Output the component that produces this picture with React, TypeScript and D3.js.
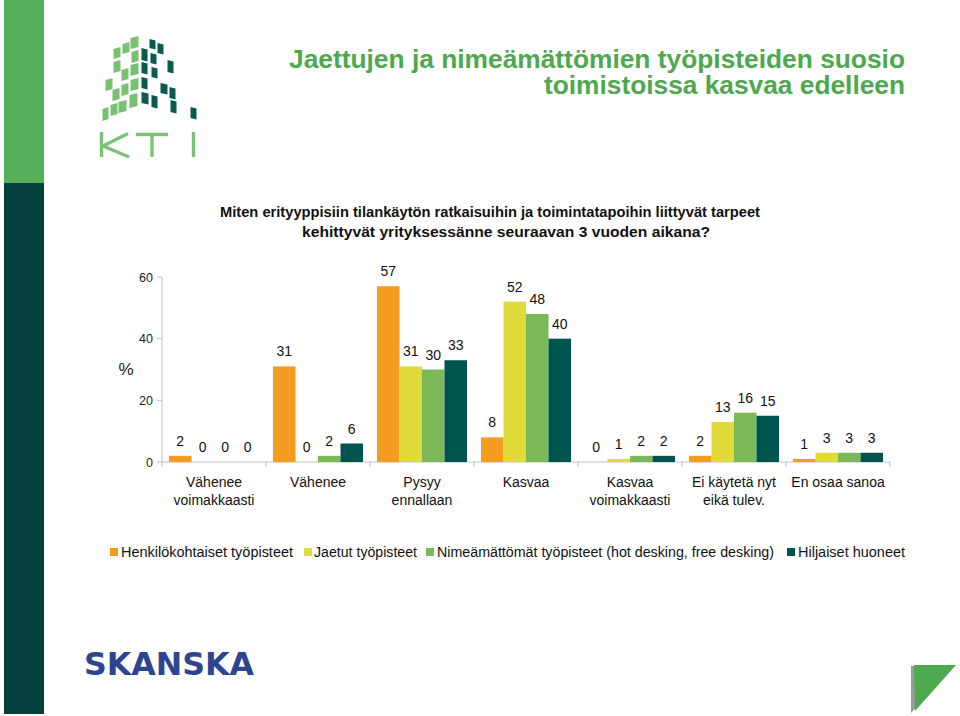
import React from "react";
import * as d3 from "d3";

const categories: string[][] = [
  ["Vähenee", "voimakkaasti"],
  ["Vähenee"],
  ["Pysyy", "ennallaan"],
  ["Kasvaa"],
  ["Kasvaa", "voimakkaasti"],
  ["Ei käytetä nyt", "eikä tulev."],
  ["En osaa sanoa"],
];
const seriesNames = [
  "Henkilökohtaiset työpisteet",
  "Jaetut työpisteet",
  "Nimeämättömät työpisteet (hot desking, free desking)",
  "Hiljaiset huoneet",
];
const henkilokohtaiset = [2, 31, 57, 8, 0, 2, 1];
const jaetut = [0, 0, 31, 52, 1, 13, 3];
const nimeamattomat = [0, 2, 30, 48, 2, 16, 3];
const hiljaiset = [0, 6, 33, 40, 2, 15, 3];
const yTicks = [0, 20, 40, 60];

const seriesValues = [henkilokohtaiset, jaetut, nimeamattomat, hiljaiset];
const colors = ["#F39C1F", "#DEDB3A", "#7BB856", "#005450"];

// Decorative logo tiles [x, y, w, h]
const lightTiles = [
  [114, 47, 6, 11], [123, 42, 6, 11], [131, 36, 7, 12], [114, 60, 6, 12], [132, 50, 6, 12],
  [106, 78, 6, 12], [122, 68, 6, 12], [131, 63, 7, 12], [113, 88, 6, 12], [122, 83, 6, 12],
  [131, 78, 7, 12], [103, 107, 5, 13], [111, 103, 6, 12], [119, 100, 7, 12], [130, 93, 7, 14],
];
const darkTiles = [
  [150, 39, 5, 9], [158, 43, 5, 10], [142, 48, 5, 12], [151, 53, 5, 10], [168, 60, 5, 12],
  [142, 62, 5, 11], [152, 67, 5, 10], [142, 77, 5, 11], [161, 83, 6, 10], [170, 87, 5, 11],
  [142, 92, 6, 11], [152, 95, 5, 12], [171, 100, 5, 12], [191, 107, 5, 11],
];

export default function App() {
  const W = 960, H = 716;
  const x0 = d3.scaleBand<number>()
    .domain(d3.range(categories.length))
    .range([162, 890])
    .paddingInner(0.1346)
    .paddingOuter(0.0673);
  const x1 = d3.scaleBand<number>()
    .domain(d3.range(seriesValues.length))
    .range([0, x0.bandwidth()]);
  const y = d3.scaleLinear().domain([0, 60]).range([462, 277]);
  const step = x0.step();
  const font = "'Liberation Sans', Arial, sans-serif";

  const legendSquares = [110, 304, 426, 787];
  const legendText = [121, 314, 437, 798];
  const legendLen = [172, 103, 337, 107];

  return (
    <svg width={W} height={H} style={{ position: "absolute", left: 0, top: 0, display: "block", background: "#fff" }} fontFamily={font}>
      <rect x={0} y={0} width={W} height={H} fill="#fff" />
      {/* left decorative bar */}
      <rect x={4} y={0} width={40} height={183} fill="#56B05A" />
      <rect x={4} y={183} width={40} height={531} fill="#033F3B" />

      {/* KTI logo */}
      <g>
        {lightTiles.map((t, i) => (
          <polygon key={"l" + i} fill="#79C170"
            points={`${t[0] - 0.5},${t[1] + 2} ${t[0] + t[2] + 0.5},${t[1]} ${t[0] + t[2] + 0.5},${t[1] + t[3] - 1} ${t[0] - 0.5},${t[1] + t[3] + 1}`} />
        ))}
        {darkTiles.map((t, i) => (
          <polygon key={"d" + i} fill="#0B5A50"
            points={`${t[0] - 0.5},${t[1]} ${t[0] + t[2] + 0.5},${t[1] + 1.5} ${t[0] + t[2] + 0.5},${t[1] + t[3] + 1.5} ${t[0] - 0.5},${t[1] + t[3]}`} />
        ))}
        <g stroke="#7DC377" strokeWidth={3.4} fill="none">
          <path d="M101.5,132 V157" />
          <path d="M103,146 L128,133.5" />
          <path d="M103,146 L129,157" />
          <path d="M136,134.5 H168" />
          <path d="M152,134.5 V157" />
          <path d="M193.5,132 V157" />
        </g>
      </g>

      {/* Title */}
      <text x={905} y={68} textAnchor="end" fill="#4DA84F" fontWeight="bold" fontSize={25}
        textLength={616} lengthAdjust="spacingAndGlyphs">Jaettujen ja nimeämättömien työpisteiden suosio</text>
      <text x={905} y={94} textAnchor="end" fill="#4DA84F" fontWeight="bold" fontSize={25}
        textLength={361} lengthAdjust="spacingAndGlyphs">toimistoissa kasvaa edelleen</text>

      {/* Subtitle */}
      <text x={220} y={217} fill="#111" fontWeight="bold" fontSize={14}
        textLength={540} lengthAdjust="spacingAndGlyphs">Miten erityyppisiin tilankäytön ratkaisuihin ja toimintatapoihin liittyvät tarpeet</text>
      <text x={302} y={237} fill="#111" fontWeight="bold" fontSize={14}
        textLength={408} lengthAdjust="spacingAndGlyphs">kehittyvät yrityksessänne seuraavan 3 vuoden aikana?</text>

      {/* Y axis */}
      <line x1={162} x2={162} y1={y(60)} y2={y(0)} stroke="#BFBFBF" />
      {yTicks.map((t) => (
        <g key={t}>
          <line x1={157} x2={162} y1={y(t)} y2={y(t)} stroke="#BFBFBF" />
          <text x={153} y={y(t) + 4.5} textAnchor="end" fontSize={12.5} fill="#222">{t}</text>
        </g>
      ))}
      <text x={126} y={375} textAnchor="middle" fontSize={17} fill="#222">%</text>

      {/* X axis */}
      <line x1={162} x2={890} y1={y(0)} y2={y(0)} stroke="#BFBFBF" />
      {d3.range(categories.length + 1).map((i) => (
        <line key={i} x1={162 + i * step} x2={162 + i * step} y1={y(0)} y2={y(0) + 5} stroke="#BFBFBF" />
      ))}

      {/* Bars */}
      {categories.map((c, ci) => (
        <g key={ci} transform={`translate(${x0(ci)},0)`}>
          {seriesValues.map((vals, si) => {
            const v = vals[ci];
            const bx = x1(si)!;
            return (
              <g key={si}>
                <rect x={bx} y={y(v)} width={x1.bandwidth()} height={y(0) - y(v)} fill={colors[si]} />
                <text x={bx + x1.bandwidth() / 2} y={y(v) - 10} textAnchor="middle" fontSize={14} fill="#111">{v}</text>
              </g>
            );
          })}
          {c.map((line, li) => (
            <text key={li} x={x0.bandwidth() / 2} y={487 + li * 18} textAnchor="middle" fontSize={14} fill="#111">{line}</text>
          ))}
        </g>
      ))}

      {/* Legend */}
      {seriesNames.map((n, i) => (
        <g key={n}>
          <rect x={legendSquares[i]} y={548} width={8} height={8} fill={colors[i]} />
          <text x={legendText[i]} y={557} fontSize={14} fill="#111" textLength={legendLen[i]} lengthAdjust="spacingAndGlyphs">{n}</text>
        </g>
      ))}

      {/* Skanska logo */}
      <text x={84} y={675} fontFamily="'DejaVu Sans', sans-serif" fontWeight="bold" fontSize={32} fill="#2D4590"
        textLength={170} lengthAdjust="spacingAndGlyphs">SKANSKA</text>

      {/* Corner triangle */}
      <polygon points="911,666 953,666 911,713" fill="#9A9A9A" />
      <polygon points="914,665 956,665 915,711" fill="#4DAA4F" />
    </svg>
  );
}
